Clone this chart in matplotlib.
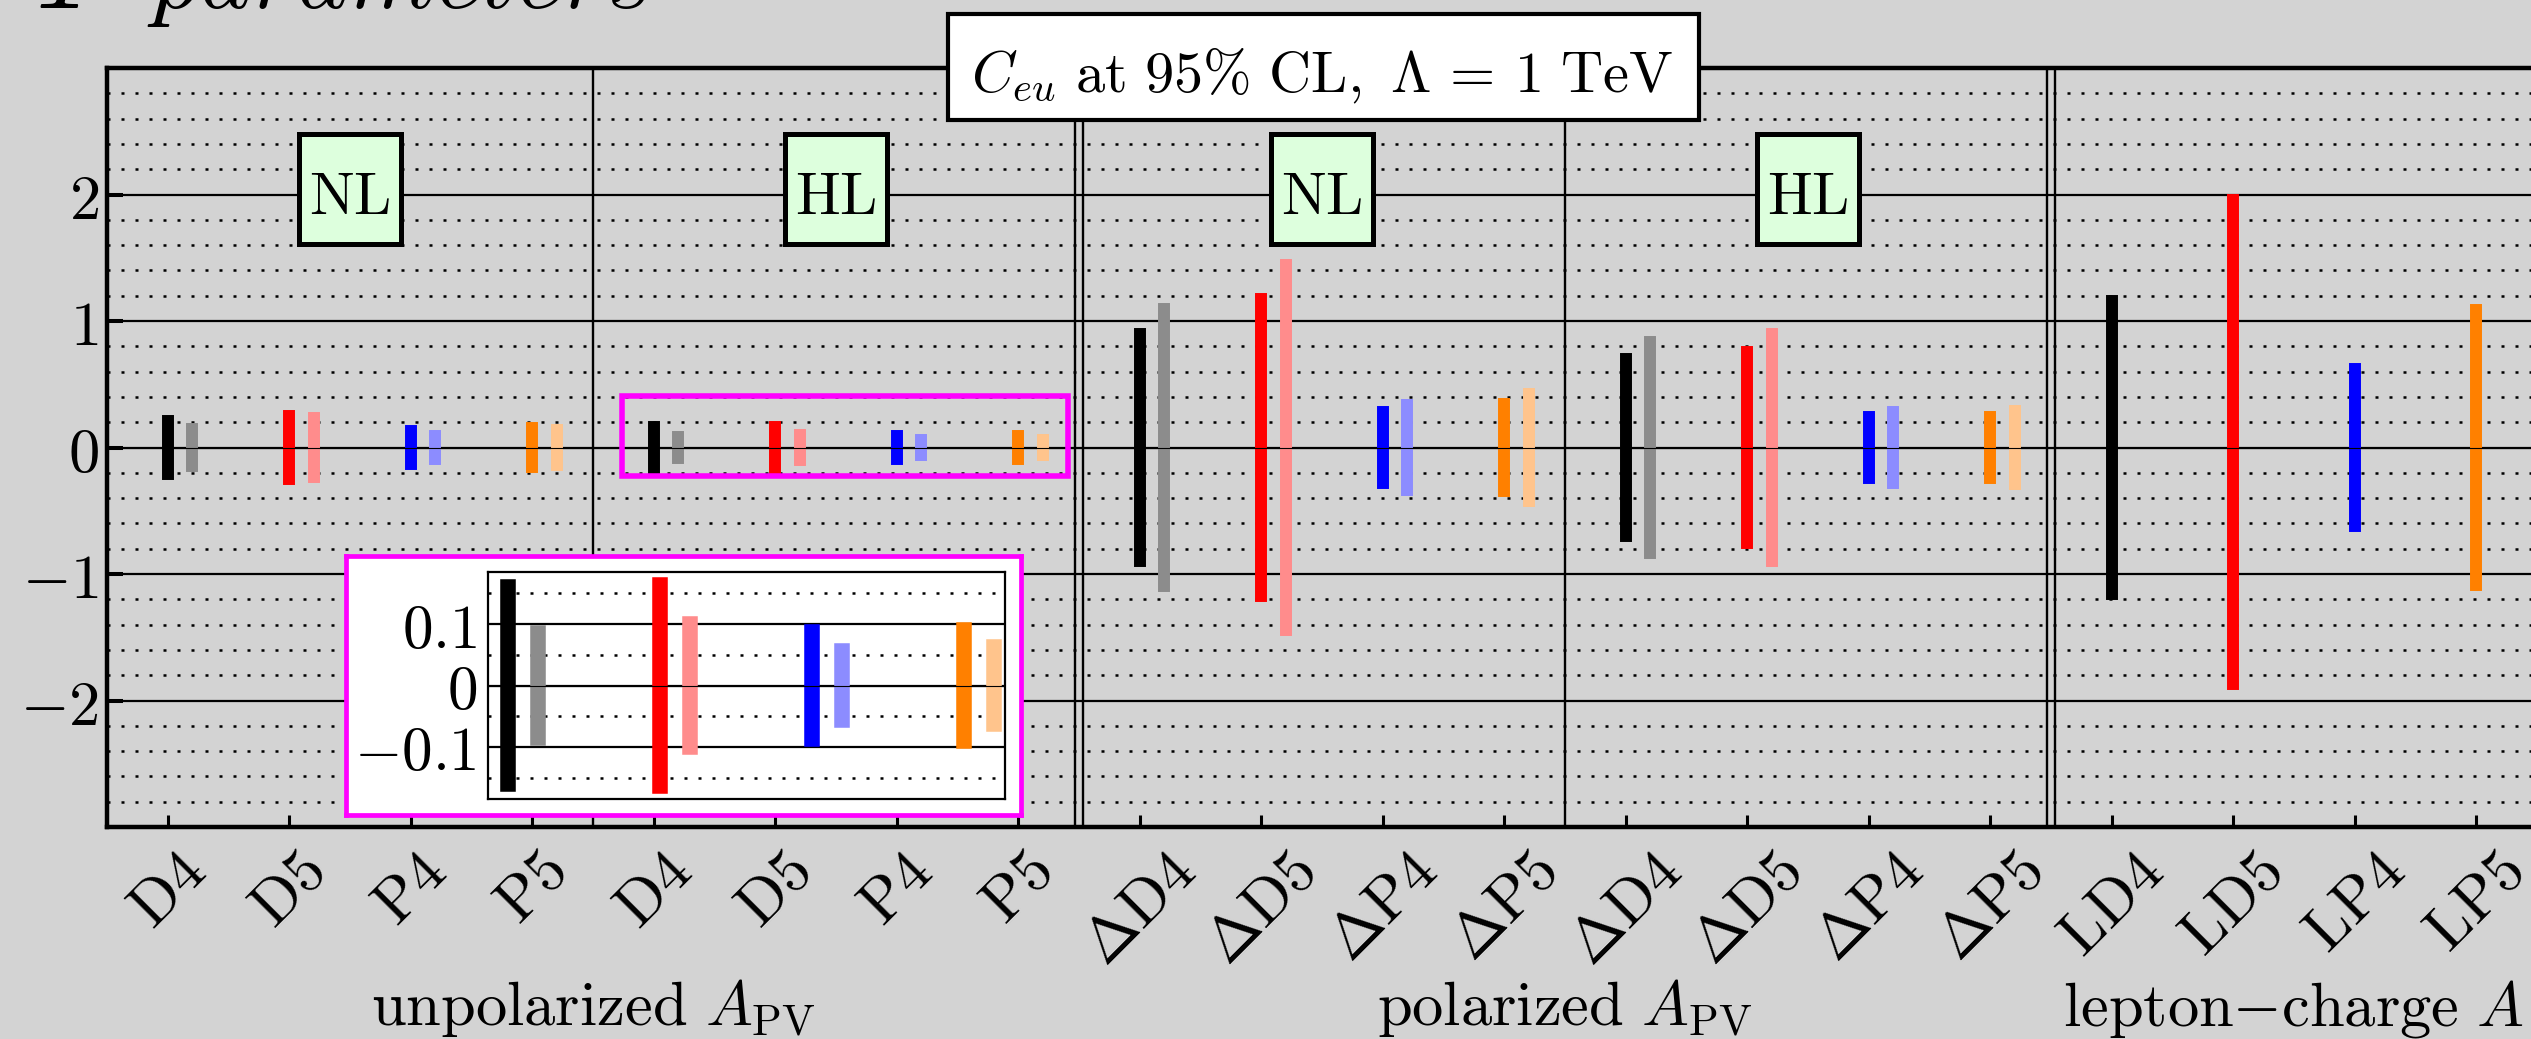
import numpy as np
import matplotlib
matplotlib.use('Agg')
import matplotlib.pyplot as plt
from matplotlib.patches import Rectangle
import matplotlib.transforms as mtransforms

plt.rcParams['mathtext.fontset'] = 'cm'
plt.rcParams['font.family'] = ['DejaVu Serif']
plt.rcParams['axes.unicode_minus'] = True

# ---------------- data ----------------
tick_labels = [r'$\mathrm{D4}$', r'$\mathrm{D5}$', r'$\mathrm{P4}$', r'$\mathrm{P5}$',
               r'$\mathrm{D4}$', r'$\mathrm{D5}$', r'$\mathrm{P4}$', r'$\mathrm{P5}$',
               r'$\Delta\mathrm{D4}$', r'$\Delta\mathrm{D5}$', r'$\Delta\mathrm{P4}$', r'$\Delta\mathrm{P5}$',
               r'$\Delta\mathrm{D4}$', r'$\Delta\mathrm{D5}$', r'$\Delta\mathrm{P4}$', r'$\Delta\mathrm{P5}$',
               r'$\mathrm{LD4}$', r'$\mathrm{LD5}$', r'$\mathrm{LP4}$', r'$\mathrm{LP5}$']

# dark series: lower / upper bounds (magnitudes)
dark_low = [0.206, 0.252, 0.129, 0.155, 0.160, 0.163, 0.088, 0.091,
            0.90, 1.175, 0.282, 0.347, 0.70, 0.752, 0.242, 0.245,
            1.16, 1.87, 0.62, 1.085]
dark_high = [0.206, 0.252, 0.129, 0.155, 0.160, 0.163, 0.088, 0.091,
             0.90, 1.175, 0.282, 0.347, 0.70, 0.752, 0.242, 0.245,
             1.16, 1.96, 0.62, 1.085]
# light series: symmetric half widths (no light bars for lepton-charge group)
light_half = [0.148, 0.234, 0.090, 0.136, 0.086, 0.100, 0.057, 0.062,
              1.091, 1.443, 0.333, 0.420, 0.835, 0.898, 0.282, 0.288]

dark_colors = ['#000000', '#FF0000', '#0000FF', '#FF8000']
light_colors = ['#8C8C8C', '#FF8C8C', '#8C8CFF', '#FFC48C']

group_labels = [r'$\mathrm{unpolarized}\ A_{\mathrm{PV}}$',
                r'$\mathrm{polarized}\ A_{\mathrm{PV}}$',
                r'$\mathrm{lepton}{-}\mathrm{charge}\ A$']
group_centers = [4.5, 12.5, 18.5]
box_labels = [r'$\mathrm{NL}$', r'$\mathrm{HL}$', r'$\mathrm{NL}$', r'$\mathrm{HL}$']
box_centers = [2.5, 6.5, 10.5, 14.5]
title_text = r'$C_{eu}\ \mathrm{at}\ 95\%\ \mathrm{CL},\ \Lambda\,=\,1\ \mathrm{TeV}$'

inset_labels = [r'$-0.1$', r'$0$', r'$0.1$']
inset_ticks = [-0.1, 0.0, 0.1]

# ---------------- figure ----------------
W, H = 2531, 1039
BG = '#D3D3D3'
fig = plt.figure(figsize=(W / 100, H / 100), dpi=100, facecolor=BG)
ax = fig.add_axes([107 / W, 1 - 827 / H, 2430 / W, 759 / H])
ax.set_facecolor(BG)
ax.set_xlim(0.5, 20.5)
ax.set_ylim(-3, 3)

FS = 45
DOT = (0, (1.2, 4.4))
pos = np.arange(1, len(tick_labels) + 1)

# grid
for yv in [-2, -1, 0, 1, 2]:
    ax.axhline(yv, color='black', lw=1.6, zorder=1)
for k in range(-14, 15):
    if k % 5 != 0:
        ax.axhline(k * 0.2, color='black', lw=1.8, ls=DOT, zorder=1)
for xv in [4.5, 12.5]:
    ax.axvline(xv, color='black', lw=1.7, zorder=2)
for xv in [8.5, 16.5]:
    ax.axvline(xv - 0.037, color='black', lw=1.7, zorder=2)
    ax.axvline(xv + 0.037, color='black', lw=1.7, zorder=2)

# bars
for i, x in enumerate(pos):
    ax.plot([x, x], [-dark_low[i], dark_high[i]], color=dark_colors[i % 4],
            lw=8.6, solid_capstyle='projecting', zorder=4)
for i, h in enumerate(light_half):
    x = pos[i] + 0.2
    ax.plot([x, x], [-h, h], color=light_colors[i % 4],
            lw=8.6, solid_capstyle='projecting', zorder=4)
ax.axhline(0, color='black', lw=0.8, zorder=5)

# ticks
ax.set_xticks(pos)
ax.set_xticklabels(tick_labels, rotation=45, fontsize=FS)
ax.set_yticks([-2, -1, 0, 1, 2])
ax.set_yticklabels([r'$-2$', r'$-1$', r'$0$', r'$1$', r'$2$'], fontsize=FS)
ax.tick_params(axis='x', direction='in', length=8.6, width=2.2, bottom=True, top=False, pad=10)
ax.tick_params(axis='y', direction='in', length=11.5, width=2.9, left=True, right=False, pad=6)
for sp in ax.spines.values():
    sp.set_linewidth(3.2)
    sp.set_zorder(6)

# NL / HL boxes
for c, t in zip(box_centers, box_labels):
    ax.add_patch(Rectangle((c - 0.42, 1.61), 0.84, 0.87, facecolor='#DDFFDD',
                           edgecolor='black', lw=3.6, zorder=7))
    ax.text(c, 1.849, t, ha='center', va='baseline', fontsize=43, zorder=8)

# title box
ax.add_patch(Rectangle((7.42, 2.585), 6.18, 0.84, facecolor='white', edgecolor='black',
                       lw=3.0, zorder=9, clip_on=False))
ax.text(10.5, 2.815, title_text, ha='center', va='baseline', fontsize=42, zorder=10,
        clip_on=False)

# magenta zoom rectangle
ax.add_patch(Rectangle((4.74, -0.225), 3.67, 0.635, fill=False, edgecolor='#FF00FF',
                       lw=4.0, zorder=6))

# group labels
trans = mtransforms.blended_transform_factory(ax.transData, fig.transFigure)
for c, t in zip(group_centers, group_labels):
    ax.text(c, 1 - 1025 / H, t, transform=trans, ha='center', va='baseline',
            fontsize=FS, clip_on=False)

# top-left figure title (cut off, as in the reference)
fig.text(35 / W, 1 - 8 / H, r'$T\ \ parameters$', fontsize=71, ha='left', va='baseline')

# ---------------- inset ----------------
ax_bg = fig.add_axes([346 / W, 1 - 815 / H, 675 / W, 259 / H])
ax_bg.set_facecolor('white')
ax_bg.set_xticks([])
ax_bg.set_yticks([])
for sp in ax_bg.spines.values():
    sp.set_color('#FF00FF')
    sp.set_linewidth(3.4)

ax_in = fig.add_axes([488 / W, 1 - 799 / H, 517 / W, 227 / H])
ax_in.set_facecolor('white')
ax_in.set_xlim(0.77, 4.17)
ax_in.set_ylim(-0.185, 0.185)
for yv in inset_ticks:
    ax_in.axhline(yv, color='black', lw=1.6, zorder=1)
for yv in [-0.15, -0.05, 0.05, 0.15]:
    ax_in.axhline(yv, color='black', lw=1.8, ls=DOT, zorder=1)
xs = np.arange(1, 5)
for j in range(4):
    i = 4 + j
    ax_in.plot([xs[j] - 0.1] * 2, [-dark_low[i], dark_high[i]], color=dark_colors[j],
               lw=11.2, solid_capstyle='projecting', zorder=4)
    ax_in.plot([xs[j] + 0.1] * 2, [-light_half[i], light_half[i]], color=light_colors[j],
               lw=11.2, solid_capstyle='projecting', zorder=4)
ax_in.axhline(0, color='black', lw=0.8, zorder=5)
ax_in.set_xticks([])
ax_in.set_yticks(inset_ticks)
ax_in.set_yticklabels(inset_labels, fontsize=44)
ax_in.tick_params(axis='y', length=0, pad=8)
for sp in ax_in.spines.values():
    sp.set_linewidth(1.6)

fig.savefig('out.png', dpi=100, facecolor=BG)
